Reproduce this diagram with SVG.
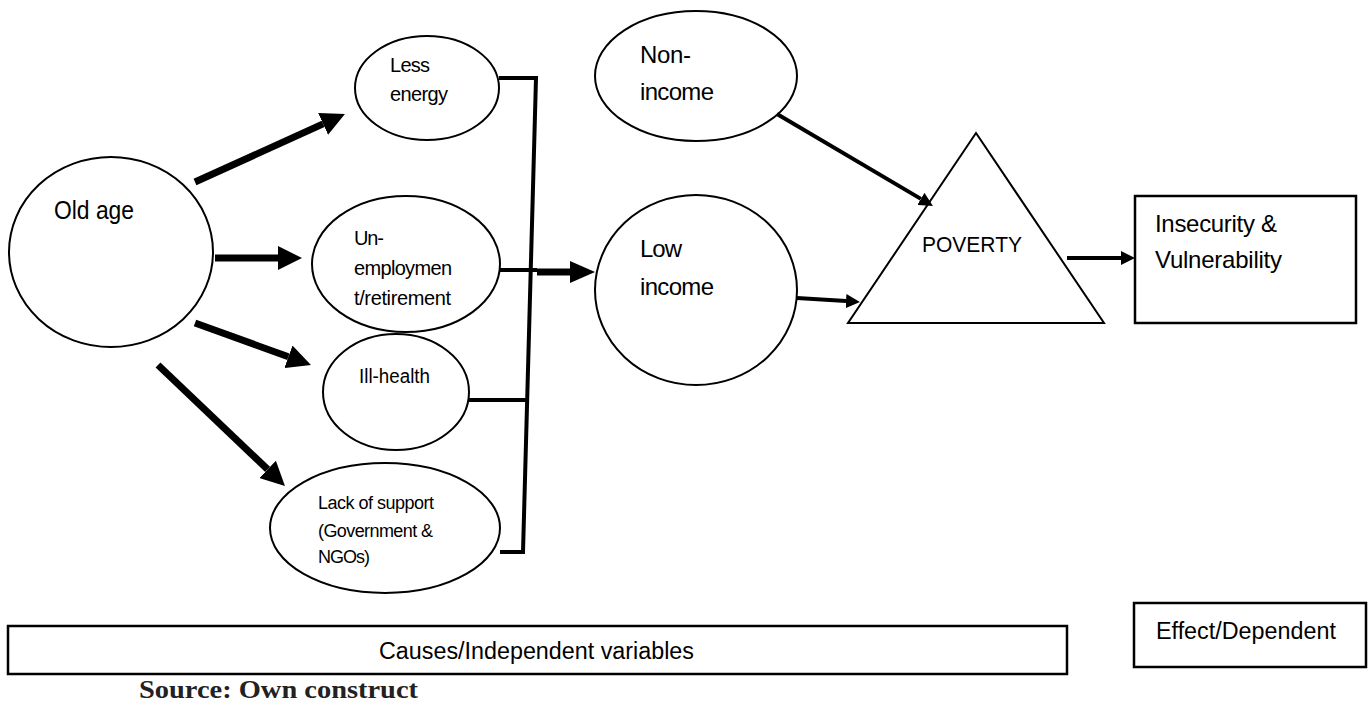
<svg xmlns="http://www.w3.org/2000/svg" width="1372" height="702" viewBox="0 0 1372 702">
<style>
  .shape{fill:#fff;stroke:#000;stroke-width:2}
  .box{fill:#fff;stroke:#000;stroke-width:2.5}
  .t{font-family:"Liberation Sans",Arial,sans-serif;fill:#000}
  .src{font-family:"Liberation Serif","Times New Roman",serif;font-weight:bold;fill:#222}
  .thick{stroke:#000;stroke-width:7;fill:none}
  .thin{stroke:#000;stroke-width:4;fill:none}
  .brk{stroke:#000;stroke-width:4;fill:none}
</style>
<defs>
  <marker id="hb" markerUnits="userSpaceOnUse" markerWidth="24" markerHeight="24" viewBox="0 0 24 24" refX="0" refY="12" orient="auto"><path d="M0,0 L24,12 L0,24 z" fill="#000"/></marker>
  <marker id="hm" markerUnits="userSpaceOnUse" markerWidth="25" markerHeight="22" viewBox="0 0 25 22" refX="0" refY="11" orient="auto"><path d="M0,0 L25,11 L0,22 z" fill="#000"/></marker>
  <marker id="hs" markerUnits="userSpaceOnUse" markerWidth="14" markerHeight="14" viewBox="0 0 14 14" refX="0" refY="7" orient="auto"><path d="M0,0 L14,7 L0,14 z" fill="#000"/></marker>
</defs>
<rect width="1372" height="702" fill="#fff"/>

<g id="old-age"><ellipse class="shape" cx="111" cy="252" rx="102" ry="95"/><text class="t" x="54" y="219" font-size="25" textLength="80" lengthAdjust="spacingAndGlyphs">Old age</text></g>
<g id="less-energy"><ellipse class="shape" cx="427" cy="88" rx="72" ry="52"/><text class="t" font-size="20" lengthAdjust="spacingAndGlyphs"><tspan x="390" y="72" textLength="40">Less</tspan><tspan x="390" y="101" textLength="58">energy</tspan></text></g>
<g id="unemployment"><ellipse class="shape" cx="406" cy="264" rx="94" ry="68"/><text class="t" font-size="20" lengthAdjust="spacingAndGlyphs"><tspan x="354" y="245" textLength="30">Un-</tspan><tspan x="354" y="275" textLength="98">employmen</tspan><tspan x="354" y="305" textLength="97">t/retirement</tspan></text></g>
<g id="ill-health"><ellipse class="shape" cx="396" cy="392" rx="73" ry="58"/><text class="t" x="359" y="383" font-size="20" textLength="71" lengthAdjust="spacingAndGlyphs">Ill-health</text></g>
<g id="lack-support"><ellipse class="shape" cx="385" cy="528" rx="115" ry="65"/><text class="t" font-size="18" lengthAdjust="spacingAndGlyphs"><tspan x="318" y="509" textLength="116">Lack of support</tspan><tspan x="318" y="537" textLength="115">(Government &amp;</tspan><tspan x="318" y="563" textLength="52">NGOs)</tspan></text></g>
<g id="non-income"><ellipse class="shape" cx="696" cy="76" rx="101" ry="65"/><text class="t" font-size="24" lengthAdjust="spacingAndGlyphs"><tspan x="640" y="63" textLength="51">Non-</tspan><tspan x="640" y="100" textLength="74">income</tspan></text></g>
<g id="low-income"><ellipse class="shape" cx="696" cy="290" rx="101" ry="95"/><text class="t" font-size="24" lengthAdjust="spacingAndGlyphs"><tspan x="640" y="257" textLength="42">Low</tspan><tspan x="640" y="295" textLength="74">income</tspan></text></g>
<g id="poverty"><polygon class="shape" points="976,133 848,323 1104,323"/><text class="t" x="922" y="252" font-size="22" textLength="100" lengthAdjust="spacingAndGlyphs">POVERTY</text></g>
<g id="insecurity"><rect class="box" x="1135" y="196" width="221" height="127"/><text class="t" font-size="24" lengthAdjust="spacingAndGlyphs"><tspan x="1155" y="232" textLength="122">Insecurity &amp;</tspan><tspan x="1155" y="268" textLength="127">Vulnerability</tspan></text></g>
<g id="causes"><rect class="box" x="8" y="626" width="1059" height="48"/><text class="t" x="379" y="659" font-size="23" textLength="315" lengthAdjust="spacingAndGlyphs">Causes/Independent variables</text></g>
<g id="effect"><rect class="box" x="1134" y="603" width="232" height="64"/><text class="t" x="1156" y="639" font-size="23" textLength="180" lengthAdjust="spacingAndGlyphs">Effect/Dependent</text></g>
<g id="source"><text class="src" x="139" y="698" font-size="25" textLength="279" lengthAdjust="spacingAndGlyphs">Source: Own construct</text></g>

<g id="connectors">
  <line class="thick" x1="195" y1="182" x2="323.1" y2="123.9" marker-end="url(#hb)"/>
  <line class="thick" x1="215" y1="258" x2="278" y2="258" marker-end="url(#hb)"/>
  <line class="thick" x1="195" y1="323" x2="288.4" y2="356.8" marker-end="url(#hb)"/>
  <line class="thick" x1="158" y1="365" x2="267.6" y2="469.4" marker-end="url(#hb)"/>
  <path class="brk" d="M499,78 H536 L523,552 H500"/>
  <line class="brk" x1="500" y1="270" x2="537" y2="270"/>
  <line class="brk" x1="469" y1="400" x2="527" y2="400"/>
  <line class="thick" x1="537" y1="272" x2="570" y2="272" marker-end="url(#hm)"/>
  <line class="thin" x1="777" y1="114" x2="920.9" y2="198.9" marker-end="url(#hs)"/>
  <line class="thin" x1="797" y1="298" x2="846" y2="301.1" marker-end="url(#hs)"/>
  <line class="thin" x1="1067" y1="258" x2="1121" y2="258" stroke-width="5" marker-end="url(#hs)"/>
</g>
</svg>
